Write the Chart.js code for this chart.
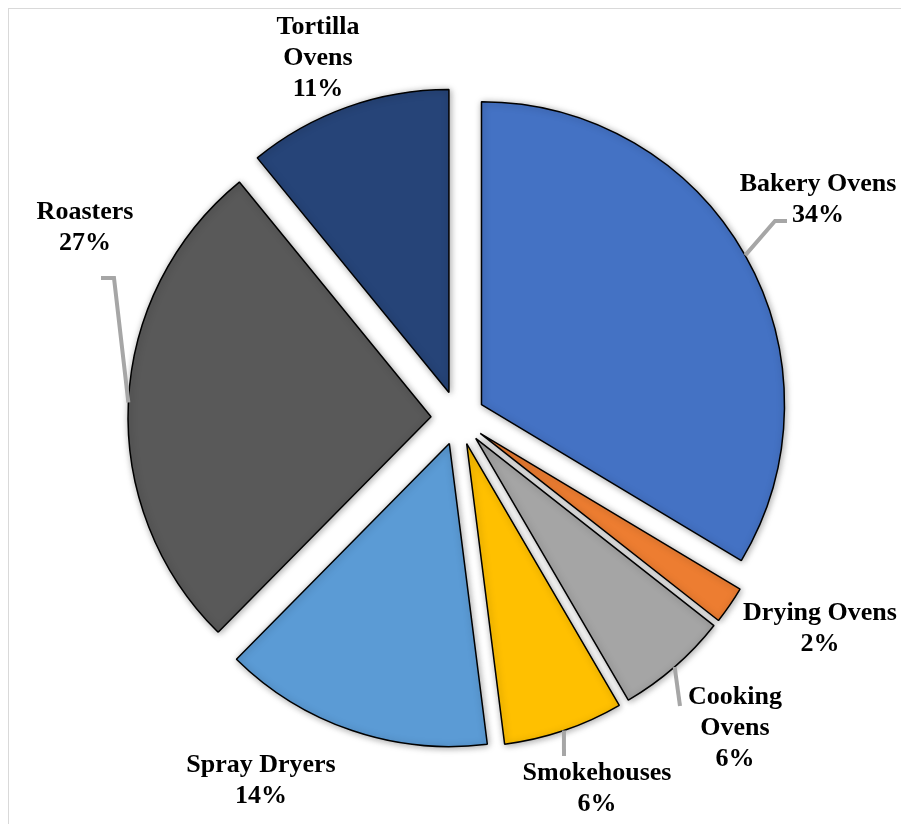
<!DOCTYPE html>
<html>
<head>
<meta charset="utf-8">
<script src="https://cdn.jsdelivr.net/npm/chart.js@4/dist/chart.umd.min.js"></script>
<style>
  body { margin: 0; background: #fff; }
  #wrap { position: relative; width: 901px; height: 824px; }
</style>
</head>
<body>
<div id="wrap"><canvas id="myChart" width="901" height="824"></canvas></div>
<script>
// Data (clockwise from 12 o'clock), shares
const categories = ["Bakery Ovens", "Drying Ovens", "Cooking Ovens", "Smokehouses", "Spray Dryers", "Roasters", "Tortilla Ovens"];
const shares = [33.6, 2.0, 6.0, 6.4, 14.4, 26.7, 10.9];
const percentLabels = ["34%", "2%", "6%", "6%", "14%", "27%", "11%"];

// Styling
const sliceColors = ["#4472C4", "#ED7D31", "#A5A5A5", "#FFC000", "#5B9BD5", "#595959", "#264478"];
const explodeBy = 27; // px each slice is pulled out from the centre
const labelFont = "bold 26px 'Liberation Serif', 'Times New Roman', serif";
const lineGap = 31;

// label text lines and placement (centre of first line), plus optional leader lines
const labelLayout = [
  { lines: ["Bakery Ovens"], x: 818, y: 184, leader: [[775, 221], [787, 221]] },
  { lines: ["Drying Ovens"], x: 820, y: 613 },
  { lines: ["Cooking", "Ovens"], x: 735, y: 697, leader: [[680, 706]] },
  { lines: ["Smokehouses"], x: 597, y: 773, leader: [[564, 756]] },
  { lines: ["Spray Dryers"], x: 261, y: 765 },
  { lines: ["Roasters"], x: 85, y: 212, leader: [[114, 278], [101, 278]] },
  { lines: ["Tortilla", "Ovens"], x: 318, y: 27 }
];

// pulls every slice outwards along its middle angle, like an exploded Excel pie
const explodePlugin = {
  id: "explode",
  afterDatasetUpdate(chart, args) {
    args.meta.data.forEach((arc) => {
      const mid = (arc.startAngle + arc.endAngle) / 2;
      arc.x += Math.cos(mid) * explodeBy;
      arc.y += Math.sin(mid) * explodeBy;
    });
  }
};

// soft shadow under the slices
const shadowPlugin = {
  id: "shadow",
  beforeDatasetsDraw(chart) {
    const ctx = chart.ctx;
    ctx.save();
    ctx.shadowColor = "rgba(0,0,0,0.35)";
    ctx.shadowBlur = 7;
    ctx.shadowOffsetX = 1;
    ctx.shadowOffsetY = 1;
  },
  afterDatasetsDraw(chart) {
    chart.ctx.restore();
  }
};

// thin frame, leader lines and data labels
const labelPlugin = {
  id: "pieLabels",
  beforeDraw(chart) {
    const ctx = chart.ctx;
    ctx.save();
    ctx.strokeStyle = "#D9D9D9";
    ctx.lineWidth = 1;
    ctx.strokeRect(8.5, 8.5, 910, 830);
    ctx.restore();
  },
  afterDraw(chart) {
    const ctx = chart.ctx;
    const arcs = chart.getDatasetMeta(0).data;
    ctx.save();
    arcs.forEach((arc, i) => {
      const lay = labelLayout[i];
      if (lay.leader) {
        const mid = (arc.startAngle + arc.endAngle) / 2;
        ctx.beginPath();
        ctx.moveTo(arc.x + Math.cos(mid) * arc.outerRadius, arc.y + Math.sin(mid) * arc.outerRadius);
        lay.leader.forEach((p) => ctx.lineTo(p[0], p[1]));
        ctx.strokeStyle = "#A6A6A6";
        ctx.lineWidth = 4;
        ctx.lineJoin = "miter";
        ctx.stroke();
      }
      ctx.font = labelFont;
      ctx.fillStyle = "#000";
      ctx.textAlign = "center";
      ctx.textBaseline = "middle";
      const allLines = lay.lines.concat([percentLabels[i]]);
      allLines.forEach((t, k) => ctx.fillText(t, lay.x, lay.y + k * lineGap));
    });
    ctx.restore();
  }
};

const ctx = document.getElementById("myChart").getContext("2d");
const myChart = new Chart(ctx, {
  type: "pie",
  data: {
    labels: categories,
    datasets: [
      {
        data: shares,
        backgroundColor: sliceColors,
        borderColor: "#000",
        borderWidth: 1.5,
        radius: 303
      }
    ]
  },
  options: {
    responsive: false,
    animation: false,
    layout: { padding: { left: 15, right: 0, top: 12, bottom: 0 } },
    plugins: {
      legend: { display: false },
      tooltip: { enabled: false }
    }
  },
  plugins: [explodePlugin, shadowPlugin, labelPlugin]
});
</script>
</body>
</html>
